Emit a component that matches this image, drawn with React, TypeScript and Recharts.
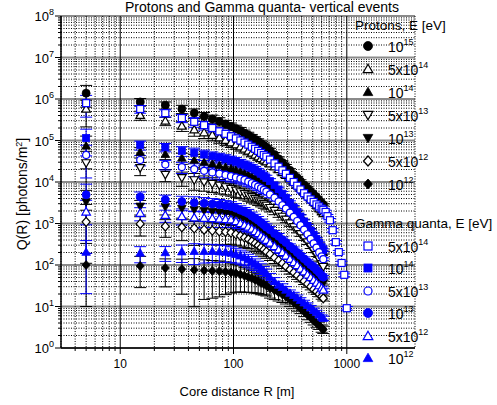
import { ScatterChart, Scatter, XAxis, YAxis, CartesianGrid, ErrorBar } from "recharts";

const W = 497;
const H = 405;
const FONT = "'Liberation Sans', Arial, sans-serif";
const BLACK = "#000000";
const BLUE = "#0000ff";

// core distances, m
const R = [5, 15, 25, 35, 45, 55, 65, 75, 85, 95, 105, 115, 125, 135, 145, 155, 165, 175, 185, 195,
  210, 230, 250, 270, 290, 315, 340, 365, 390, 420, 450, 480, 510, 540, 570, 600, 620];
// extra far points of gamma 5x10^14
const R_TAIL = [650, 675, 710, 750, 800, 850, 900, 950, 1000];

// protons
const p1e15 = [1.38e6, 8.5e5, 7.1e5, 5.75e5, 4.57e5, 3.8e5, 3.31e5, 2.88e5, 2.51e5, 2.19e5,
  1.95e5, 1.74e5, 1.51e5, 1.35e5, 1.2e5, 1.07e5, 9.55e4, 8.51e4, 7.59e4, 6.76e4,
  5.75e4, 4.57e4, 3.63e4, 2.95e4, 2.4e4, 1.91e4, 1.51e4, 1.26e4, 1.05e4,
  8.51e3, 7.08e3, 5.89e3, 5.01e3, 4.27e3, 3.63e3, 3.09e3, 2.82e3];
const p5e14 = [5.75e5, 4.07e5, 2.95e5, 2.24e5, 1.82e5, 1.55e5, 1.35e5, 1.17e5, 1.02e5, 8.91e4,
  7.94e4, 7.08e4, 6.31e4, 5.62e4, 5.01e4, 4.47e4, 4.07e4, 3.72e4, 3.39e4, 3.09e4,
  2.75e4, 2.34e4, 2.0e4, 1.7e4, 1.45e4, 1.2e4, 1.0e4, 8.32e3, 7.08e3,
  5.75e3, 4.79e3, 3.98e3, 3.31e3, 2.75e3, 2.29e3, 1.95e3, 1.74e3];
const p1e14 = [7.41e4, 5.25e4, 4.68e4, 3.8e4, 3.39e4, 3.02e4, 2.75e4, 2.51e4, 2.29e4, 2.09e4,
  1.91e4, 1.74e4, 1.58e4, 1.45e4, 1.32e4, 1.2e4, 1.1e4, 1.0e4, 9.12e3, 8.32e3,
  7.24e3, 6.03e3, 5.01e3, 4.17e3, 3.47e3, 2.75e3, 2.24e3, 1.82e3, 1.48e3,
  1.15e3, 891, 692, 537, 417, 316, 240, 200];
const p5e13 = [2.88e4, 2.19e4, 1.51e4, 1.26e4, 1.12e4, 1.0e4, 9.12e3, 8.32e3, 7.59e3, 6.92e3,
  6.31e3, 5.75e3, 5.25e3, 4.79e3, 4.37e3, 3.98e3, 3.63e3, 3.31e3, 3.02e3, 2.75e3,
  2.4e3, 2.04e3, 1.74e3, 1.48e3, 1.26e3, 1.02e3, 832, 692, 562,
  447, 355, 282, 224, 178, 138, 107, 91];
const p1e13 = [3.31e3, 2.6e3, 2.5e3, 2.29e3, 2.14e3, 2.04e3, 1.95e3, 1.86e3, 1.78e3, 1.7e3,
  1.55e3, 1.41e3, 1.26e3, 1.15e3, 1.02e3, 912, 794, 708, 631, 562,
  479, 398, 339, 282, 240, 200, 166, 141, 120,
  100, 85, 72, 63, 55, 48, 41, 37];
const p5e12 = [1.1e3, 977, 851, 813, 759, 708, 676, 646, 631, 603,
  550, 501, 457, 417, 372, 331, 295, 263, 234, 209,
  182, 151, 129, 110, 93, 78, 66, 56, 48,
  41, 35, 30, 26, 23, 20, 17.4, 15.8];
const p1e12 = [100, 95, 85, 79, 76, 74, 72, 71, 69, 66,
  63, 59, 55, 51, 48, 44, 41, 37, 35, 32,
  27.5, 24.5, 21.9, 19.5, 17.4, 14.8, 12.6, 10.7, 9.1,
  7.6, 6.3, 5.4, 4.6, 4.0, 3.5, 3.0, 2.8];

// gamma quanta
const g5e14 = [7.94e5, 5.75e5, 4.57e5, 3.47e5, 2.82e5, 2.34e5, 2.0e5, 1.66e5, 1.45e5, 1.26e5,
  1.12e5, 1.0e5, 8.91e4, 7.94e4, 7.08e4, 6.31e4, 5.62e4, 5.01e4, 4.47e4, 4.07e4,
  3.47e4, 2.82e4, 2.34e4, 1.91e4, 1.58e4, 1.26e4, 1.0e4, 8.13e3, 6.61e3,
  5.37e3, 4.47e3, 3.8e3, 3.31e3, 2.88e3, 2.57e3, 2.29e3, 2.14e3];
const g5e14Tail = [1.9e3, 1.5e3, 1.2e3, 690, 355, 204, 112, 58, 9.1];
const g1e14 = [1.15e5, 7.76e4, 6.92e4, 5.62e4, 5.01e4, 4.57e4, 4.17e4, 3.89e4, 3.63e4, 3.39e4,
  3.16e4, 2.88e4, 2.63e4, 2.4e4, 2.19e4, 2.0e4, 1.78e4, 1.58e4, 1.41e4, 1.26e4,
  1.05e4, 8.32e3, 6.61e3, 5.25e3, 4.17e3, 3.16e3, 2.45e3, 1.91e3, 1.48e3,
  1.12e3, 871, 676, 537, 427, 339, 269, 229];
const g5e13 = [4.47e4, 3.39e4, 2.63e4, 2.29e4, 2.04e4, 1.86e4, 1.7e4, 1.58e4, 1.48e4, 1.38e4,
  1.29e4, 1.2e4, 1.12e4, 1.02e4, 9.33e3, 8.51e3, 7.76e3, 7.08e3, 6.46e3, 5.89e3,
  5.01e3, 4.17e3, 3.39e3, 2.75e3, 2.29e3, 1.82e3, 1.45e3, 1.15e3, 912,
  708, 550, 427, 331, 263, 204, 162, 138];
const g1e13 = [4.9e3, 4.37e3, 3.72e3, 3.39e3, 3.16e3, 3.09e3, 2.95e3, 2.82e3, 2.69e3, 2.57e3,
  2.34e3, 2.09e3, 1.91e3, 1.74e3, 1.51e3, 1.35e3, 1.2e3, 1.05e3, 933, 813,
  708, 575, 490, 407, 347, 282, 240, 200, 170,
  141, 120, 102, 89, 76, 66, 56, 51];
const g5e12 = [1.91e3, 1.78e3, 1.58e3, 1.48e3, 1.38e3, 1.35e3, 1.32e3, 1.29e3, 1.26e3, 1.23e3,
  1.12e3, 1.0e3, 912, 832, 741, 646, 575, 501, 447, 398,
  339, 282, 234, 200, 166, 138, 115, 98, 81,
  69, 58, 50, 43, 37, 32, 28, 25];
const g1e12 = [204, 195, 200, 209, 214, 214, 214, 209, 204, 195,
  182, 166, 151, 135, 120, 107, 95, 83, 72, 63,
  50, 40, 33, 29, 25, 21, 18.6, 16.2, 14.1,
  12.3, 10.7, 9.3, 8.1, 7.2, 6.3, 5.6, 5.2];

// relative error (low-energy level) per distance
const errBase = [1.8, 0.7, 0.65, 0.75, 0.87, 0.8, 0.78, 0.76, 0.72, 0.68,
  0.65, 0.62, 0.6, 0.57, 0.55, 0.52, 0.5, 0.48, 0.46, 0.44,
  0.42, 0.4, 0.38, 0.36, 0.34, 0.32, 0.3, 0.28, 0.26,
  0.25, 0.24, 0.23, 0.22, 0.21, 0.2, 0.2, 0.2];

const X_MAJOR = [10, 100, 1000];
const X_TICKS = [4, 5, 6, 7, 8, 9, 10, 20, 30, 40, 50, 60, 70, 80, 90, 100,
  200, 300, 400, 500, 600, 700, 800, 900, 1000];
const Y_DECADES = [1, 10, 100, 1e3, 1e4, 1e5, 1e6, 1e7, 1e8];
const MINOR_STEPS = [2, 3, 4, 5, 6, 7, 8, 9];
const Y_TICKS: number[] = [];
Y_DECADES.forEach((d, i) => {
  Y_TICKS.push(d);
  if (i < Y_DECADES.length - 1) MINOR_STEPS.forEach((m) => Y_TICKS.push(m * d));
});

type Kind = "circle" | "square" | "up" | "down" | "diamond";

const SERIES = [
  { key: "p1e15", values: p1e15, kind: "circle", color: BLACK, filled: true, errScale: 0.3 },
  { key: "p5e14", values: p5e14, kind: "up", color: BLACK, filled: false, errScale: 0.35 },
  { key: "p1e14", values: p1e14, kind: "up", color: BLACK, filled: true, errScale: 0.4 },
  { key: "p5e13", values: p5e13, kind: "down", color: BLACK, filled: false, errScale: 0.5 },
  { key: "p1e13", values: p1e13, kind: "down", color: BLACK, filled: true, errScale: 0.55 },
  { key: "p5e12", values: p5e12, kind: "diamond", color: BLACK, filled: false, errScale: 0.7 },
  { key: "p1e12", values: p1e12, kind: "diamond", color: BLACK, filled: true, errScale: 1.0 },
  { key: "g5e14", values: g5e14, kind: "square", color: BLUE, filled: false, errScale: 0.3 },
  { key: "g1e14", values: g1e14, kind: "square", color: BLUE, filled: true, errScale: 0.35 },
  { key: "g5e13", values: g5e13, kind: "circle", color: BLUE, filled: false, errScale: 0.4 },
  { key: "g1e13", values: g1e13, kind: "circle", color: BLUE, filled: true, errScale: 0.45 },
  { key: "g5e12", values: g5e12, kind: "up", color: BLUE, filled: false, errScale: 0.5 },
  { key: "g1e12", values: g1e12, kind: "up", color: BLUE, filled: true, errScale: 0.6 },
] as const;

const PROTON_LEGEND = [
  { kind: "circle", filled: true, pre: "10", exp: "15" },
  { kind: "up", filled: false, pre: "5x10", exp: "14" },
  { kind: "up", filled: true, pre: "10", exp: "14" },
  { kind: "down", filled: false, pre: "5x10", exp: "13" },
  { kind: "down", filled: true, pre: "10", exp: "13" },
  { kind: "diamond", filled: false, pre: "5x10", exp: "12" },
  { kind: "diamond", filled: true, pre: "10", exp: "12" },
];
const GAMMA_LEGEND = [
  { kind: "square", filled: false, pre: "5x10", exp: "14" },
  { kind: "square", filled: true, pre: "10", exp: "14" },
  { kind: "circle", filled: false, pre: "5x10", exp: "13" },
  { kind: "circle", filled: true, pre: "10", exp: "13" },
  { kind: "up", filled: false, pre: "5x10", exp: "12" },
  { kind: "up", filled: true, pre: "10", exp: "12" },
];

function buildData(key: string, values: readonly number[], scale: number) {
  const pts = values.map((y, i) => ({ x: R[i], y, err: y * Math.min(0.9, errBase[i] * scale) }));
  if (key === "g5e14") {
    g5e14Tail.forEach((y, i) => pts.push({ x: R_TAIL[i], y, err: y * 0.1 }));
  }
  return pts;
}

function Marker({ cx, cy, kind, color, filled, s = 4 }: any) {
  if (cx == null || cy == null) return null;
  const fill = filled ? color : "#ffffff";
  const sw = filled ? 0.8 : 1.2;
  switch (kind as Kind) {
    case "circle":
      return <circle cx={cx} cy={cy} r={filled ? s : s - 0.5} fill={fill} stroke={color} strokeWidth={sw} />;
    case "square":
      return <rect x={cx - s + 0.5} y={cy - s + 0.5} width={2 * s - 1} height={2 * s - 1} fill={fill} stroke={color} strokeWidth={sw} />;
    case "up":
      return <polygon points={`${cx},${cy - s - 0.3} ${cx + s + 0.3},${cy + s * 0.8} ${cx - s - 0.3},${cy + s * 0.8}`} fill={fill} stroke={color} strokeWidth={sw} />;
    case "down":
      return <polygon points={`${cx},${cy + s + 0.3} ${cx + s + 0.3},${cy - s * 0.8} ${cx - s - 0.3},${cy - s * 0.8}`} fill={fill} stroke={color} strokeWidth={sw} />;
    case "diamond":
      return <polygon points={`${cx},${cy - s - 0.5} ${cx + s},${cy} ${cx},${cy + s + 0.5} ${cx - s},${cy}`} fill={fill} stroke={color} strokeWidth={sw} />;
  }
  return null;
}

function XTick(props: any) {
  const { x, y, payload } = props;
  const major = X_MAJOR.includes(payload.value);
  return (
    <g>
      <line x1={x} x2={x} y1={y} y2={y + (major ? 6 : 3)} stroke={BLACK} strokeWidth={1} />
      {major && (
        <text x={x} y={y + 20} textAnchor="middle" fontSize={12} fontFamily={FONT} fill={BLACK}>
          {payload.value}
        </text>
      )}
    </g>
  );
}

function YTick(props: any) {
  const { x, y, payload } = props;
  const v = payload.value;
  const major = Y_DECADES.includes(v);
  const exp = Math.round(Math.log10(v));
  return (
    <g>
      <line x1={x - (major ? 6 : 3)} x2={x} y1={y} y2={y} stroke={BLACK} strokeWidth={1} />
      {major && (
        <text x={x - 7} y={y + 5} textAnchor="end" fontSize={13} fontFamily={FONT} fill={BLACK}>
          <tspan>10</tspan>
          <tspan dy={-6} fontSize={9}>{exp}</tspan>
        </text>
      )}
    </g>
  );
}

function hLine(p: any) {
  const v = Y_TICKS[p.index];
  const major = Y_DECADES.includes(v);
  return (
    <line key={p.key} x1={p.x1} x2={p.x2} y1={p.y1} y2={p.y2}
      stroke={major ? "#8a8a8a" : BLACK} strokeWidth={major ? 2 : 1}
      strokeDasharray={major ? undefined : "1 1.5"} />
  );
}

function vLine(p: any) {
  const v = X_TICKS[p.index];
  const major = X_MAJOR.includes(v);
  return (
    <line key={p.key} x1={p.x1} x2={p.x2} y1={p.y1} y2={p.y2}
      stroke={BLACK} strokeWidth={1} strokeDasharray={major ? undefined : "1 1.5"} />
  );
}

function LegendLabel({ x, y, pre, exp }: any) {
  return (
    <text x={x} y={y} fontSize={14} fontFamily={FONT} fill={BLACK}>
      <tspan>{pre}</tspan>
      <tspan dy={-7} fontSize={9}>{exp}</tspan>
    </text>
  );
}

export default function App() {
  const protonRows = [46, 69, 92, 115, 138, 161, 184];
  const gammaRows = [246, 268, 291, 313, 336, 358];
  return (
    <div style={{ position: "absolute", left: 0, top: 0, width: W, height: H, background: "#fff" }}>
      <ScatterChart width={W} height={H} margin={{ top: 16, right: 82, bottom: 0, left: 0 }}>
        <CartesianGrid horizontal={hLine} vertical={vLine} />
        <XAxis
          type="number"
          dataKey="x"
          scale="log"
          domain={[3, 4000]}
          allowDataOverflow
          ticks={X_TICKS}
          interval={0}
          tick={(p: any) => <XTick {...p} />}
          tickLine={false}
          tickSize={0}
          tickMargin={0}
          height={57}
          axisLine={{ stroke: BLACK, strokeWidth: 1.5 }}
        />
        <YAxis
          type="number"
          dataKey="y"
          scale="log"
          domain={[1, 1e8]}
          allowDataOverflow
          ticks={Y_TICKS}
          interval={0}
          tick={(p: any) => <YTick {...p} />}
          tickLine={false}
          tickSize={0}
          tickMargin={0}
          width={61}
          axisLine={{ stroke: BLACK, strokeWidth: 1.5 }}
        />
        {SERIES.map((s) => (
          <Scatter
            key={s.key}
            name={s.key}
            data={buildData(s.key, s.values, s.errScale)}
            isAnimationActive={false}
            shape={(p: any) => <Marker cx={p.cx} cy={p.cy} kind={s.kind} color={s.color} filled={s.filled} />}
          >
            <ErrorBar dataKey="err" direction="y" width={6} stroke={s.color} strokeWidth={1} />
          </Scatter>
        ))}
      </ScatterChart>
      <svg width={W} height={H} style={{ position: "absolute", left: 0, top: 0, pointerEvents: "none" }}>
        <text x={262} y={12} textAnchor="middle" fontSize={14} fontFamily={FONT} fill={BLACK}>
          Protons and Gamma quanta- vertical events
        </text>
        <text x={237} y={396} textAnchor="middle" fontSize={13} fontFamily={FONT} fill={BLACK}>
          Core distance R [m]
        </text>
        <text transform="translate(27,194) rotate(-90)" textAnchor="middle" fontSize={14} fontFamily={FONT} fill={BLACK}>
          Q(R) [photons/m<tspan dy={-5} fontSize={9}>2</tspan><tspan dy={5}>]</tspan>
        </text>
        <text x={355} y={30} fontSize={13.5} fontFamily={FONT} fill={BLACK}>Protons, E [eV]</text>
        {PROTON_LEGEND.map((l, i) => (
          <g key={"p" + i}>
            <Marker cx={368} cy={protonRows[i]} kind={l.kind} color={BLACK} filled={l.filled} s={4.5} />
            <LegendLabel x={388} y={protonRows[i] + 6} pre={l.pre} exp={l.exp} />
          </g>
        ))}
        <text x={355} y={228} fontSize={13.5} fontFamily={FONT} fill={BLACK}>Gamma quanta, E [eV]</text>
        {GAMMA_LEGEND.map((l, i) => (
          <g key={"g" + i}>
            <Marker cx={368} cy={gammaRows[i]} kind={l.kind} color={BLUE} filled={l.filled} s={4.5} />
            <LegendLabel x={388} y={gammaRows[i] + 6} pre={l.pre} exp={l.exp} />
          </g>
        ))}
      </svg>
    </div>
  );
}
